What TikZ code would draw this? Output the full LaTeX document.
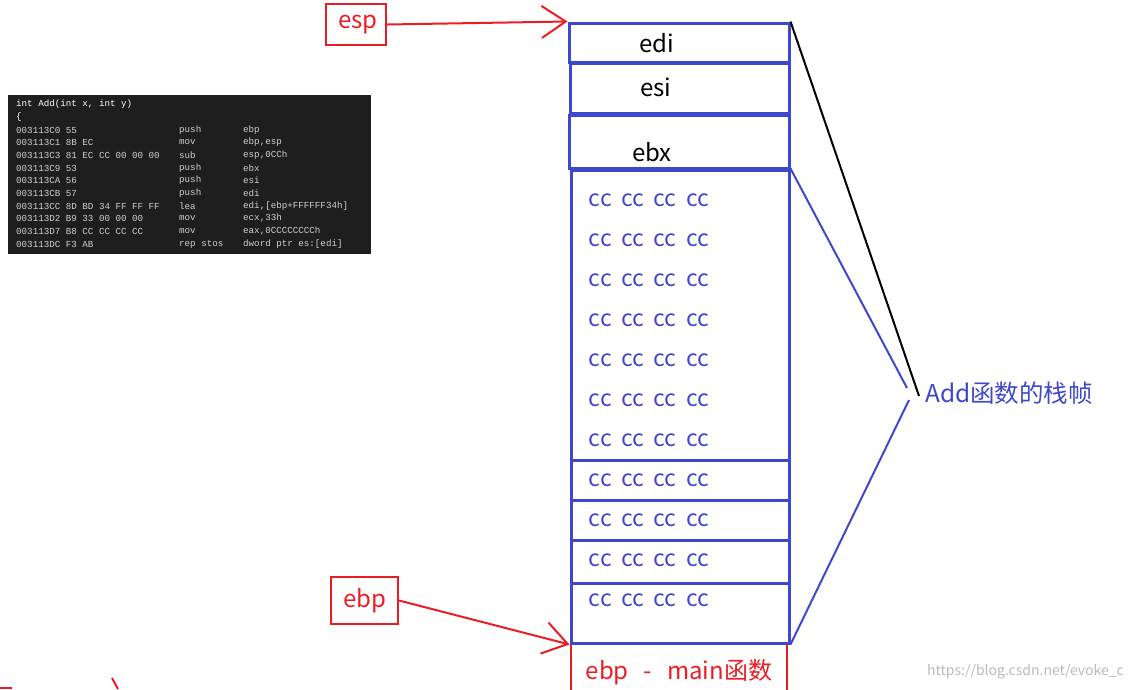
\documentclass[tikz,border=0pt]{standalone}
\usepackage{fontspec}
\setmainfont{Noto Sans CJK SC}
\newfontfamily\codefont{Liberation Mono}
\usetikzlibrary{arrows.meta}
\definecolor{stackblue}{HTML}{3F48CC}
\definecolor{markred}{HTML}{ED1C24}
\definecolor{codebg}{HTML}{1E1E1E}
\definecolor{codefg}{HTML}{D0D0D0}
\newcommand{\ccgap}{\hspace{9.5pt}}
\tikzset{
  slot/.style={draw=stackblue, line width=3pt, inner sep=0pt},
  regbox/.style={draw=markred, line width=2pt, text=markred, inner sep=0pt,
    font=\fontsize{24}{28}\selectfont},
  regtext/.style={inner sep=0pt, font=\fontsize{24}{28}\selectfont},
  cctext/.style={inner sep=0pt, text=stackblue, font=\fontsize{23}{26}\selectfont},
  codetext/.style={inner sep=0pt, anchor=west, text=codefg,
    font=\codefont\fontsize{9.2}{11}\selectfont},
  redarrow/.style={markred, line width=2pt, -{Straight Barb[length=24pt, width=32pt, line width=2pt]}}
}
\begin{document}
\begin{tikzpicture}[x=1pt, y=-1pt]
  \useasboundingbox (0,0) rectangle (1132,689);
  % disassembly screenshot
  \node[fill=codebg, inner sep=0pt, minimum width=363pt, minimum height=159pt] (code) at (189.5,174.5) {};
  \node[codetext, text=white] (head) at (16,104) {int Add(int x, int y)};
  \node[codetext, text=white] (brace) at (16,117) {\{};
  \foreach \y/\addr/\mn/\op in {
      130/{003113C0 55}/push/ebp,
      142/{003113C1 8B EC}/mov/{ebp,esp},
      155/{003113C3 81 EC CC 00 00 00}/sub/{esp,0CCh},
      168/{003113C9 53}/push/ebx,
      180/{003113CA 56}/push/esi,
      193/{003113CB 57}/push/edi,
      206/{003113CC 8D BD 34 FF FF FF}/lea/{edi,[ebp+FFFFFF34h]},
      218/{003113D2 B9 33 00 00 00}/mov/{ecx,33h},
      231/{003113D7 B8 CC CC CC CC}/mov/{eax,0CCCCCCCCh},
      244/{003113DC F3 AB}/rep stos/{dword ptr es:[edi]}} {
    \node[codetext] at (16,\y) {\addr};
    \node[codetext] at (179,\y) {\mn};
    \node[codetext] at (243,\y) {\op};
  }
  % main frame below
  \node[draw=markred, line width=2pt, inner sep=0pt, minimum width=216pt, minimum height=74pt] (mainbox) at (679,680) {};
  \node[regtext, text=markred] (maintext) at (679,672) {ebp\hspace{15pt}-\hspace{15pt}main函数};
  % saved registers
  \node[slot, minimum width=220pt, minimum height=39pt] (edi) at (679,42.5) {};
  \node[slot, minimum width=219pt, minimum height=50pt] (esi) at (679.5,88) {};
  \node[slot, minimum width=220pt, minimum height=53pt] (ebx) at (679,141.5) {};
  \node[regtext] (editext) at (657,43) {edi};
  \node[regtext] (esitext) at (656,87) {esi};
  \node[regtext] (ebxtext) at (652,152) {ebx};
  % locals filled with 0xCC
  \node[slot, minimum width=218pt, minimum height=473pt] (frame) at (680,406.5) {};
  \foreach \y in {460,500,540,583} {
    \draw[stackblue, line width=3pt] (frame.west |- 0,\y) -- (frame.east |- 0,\y);
  }
  \foreach \y in {200,240,...,600} {
    \node[cctext] at (649,\y) {cc\ccgap cc\ccgap cc\ccgap cc};
  }
  % esp / ebp pointers
  \node[regbox, minimum width=60pt, minimum height=41pt] (esp) at (356,24.5) {\hspace{4pt}esp};
  \node[regbox, minimum width=67pt, minimum height=47pt] (ebp) at (364.5,600.5) {ebp};
  \draw[redarrow] (esp.east) -- (edi.north west);
  \draw[redarrow] (ebp.east) -- (frame.south west);
  % brace lines to label
  \node[anchor=west, inner sep=0pt, text=stackblue, font=\fontsize{24.5}{28}\selectfont] (framelabel) at (925,393) {Add函数的栈帧};
  \coordinate (tipa) at (919,396);
  \coordinate (tipb) at (907,388);
  \coordinate (tipc) at (909,400);
  \draw[black, line width=2pt] (edi.north east) -- (tipa);
  \draw[stackblue, line width=2pt] (frame.north east) -- (tipb);
  \draw[stackblue, line width=2pt] (tipc) -- (frame.south east);
  % cut-off marks at the bottom edge
  \draw[markred, line width=2pt] (0,688) -- (12,688);
  \draw[markred, line width=2pt] (112,678) -- (118,689);
  \node[anchor=east, inner sep=0pt, text=gray!55, font=\fontsize{14}{16}\selectfont] (watermark) at (1124,672) {https://blog.csdn.net/evoke\_c};
\end{tikzpicture}
\end{document}
